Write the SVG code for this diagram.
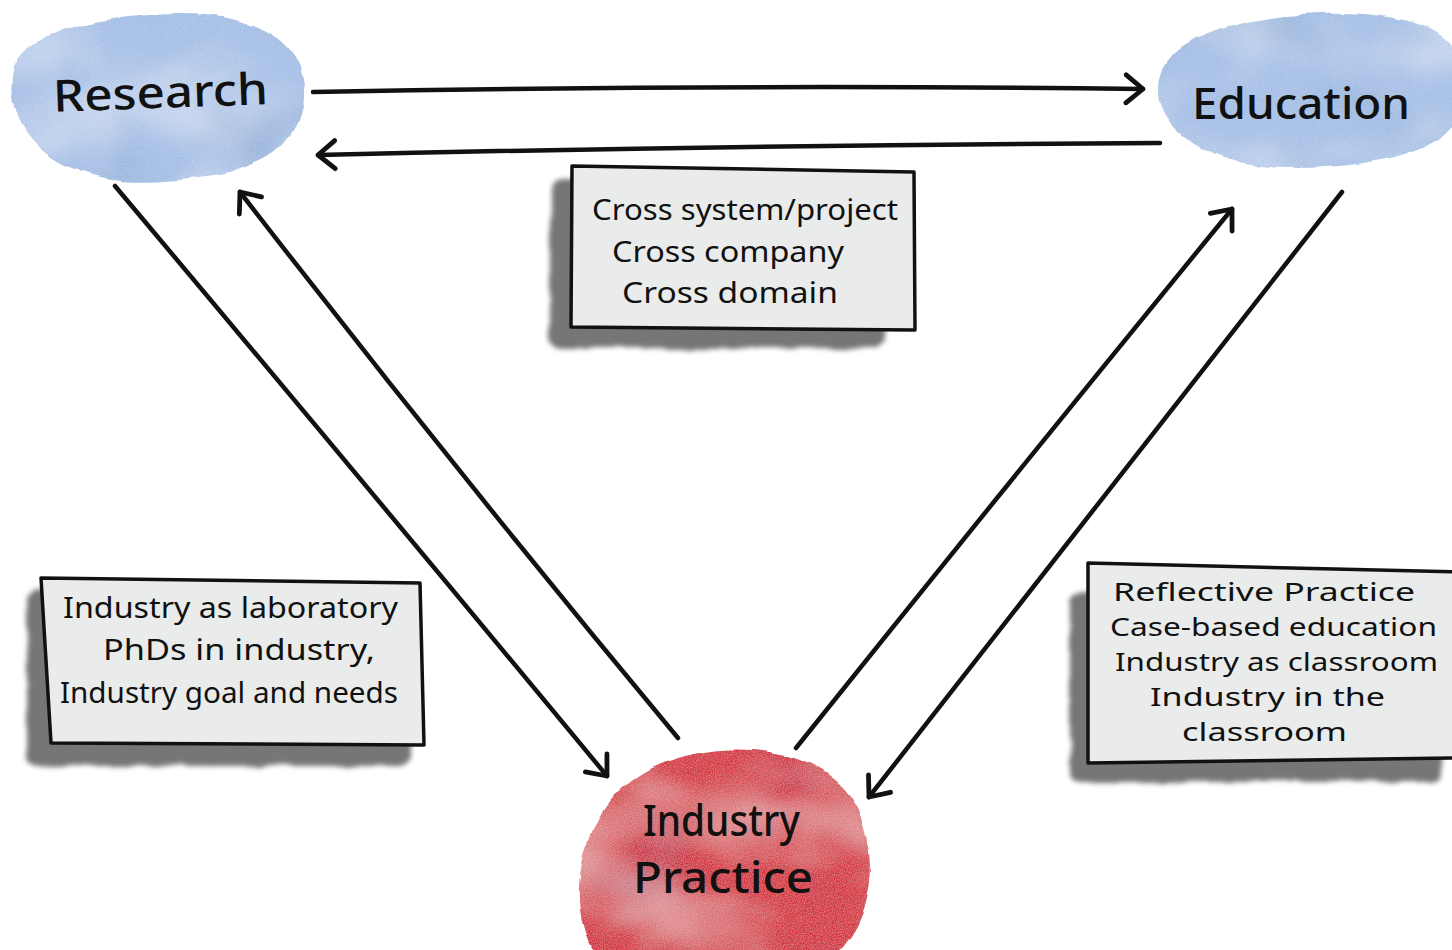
<svg xmlns="http://www.w3.org/2000/svg" width="1452" height="950" viewBox="0 0 1452 950">
  <style>
    .node-label { font-family: "Noto Sans", "DejaVu Sans", sans-serif; font-size: 44px; font-weight: 500; fill: #111; }
    .note-text { font-family: "Noto Sans", "DejaVu Sans", sans-serif; font-size: 29px; fill: #111; }
    .note-text.tight { font-size: 25px; }
    .note-box { fill: #e9ecea; stroke: #111; stroke-width: 3.5; stroke-linejoin: round; }
    .note-shadow { fill: #5e5e5e; opacity: 0.85; filter: url(#smudge); }
    .link { fill: none; stroke: #111; stroke-width: 4.5; stroke-linecap: round; marker-end: url(#chevron); }
    .blob-blue { fill: #a4bfe6; filter: url(#watercolor); }
    .blob-red { fill: #d5343f; filter: url(#watercolor); }
  </style>
  <defs>
    <marker id="chevron" markerUnits="userSpaceOnUse" markerWidth="40" markerHeight="40" viewBox="-24 -20 30 40" refX="0" refY="0" orient="auto">
      <path d="M -17,-14 L 0,0 L -17,14" fill="none" stroke="#111" stroke-width="4.8" stroke-linecap="round" stroke-linejoin="round"/>
    </marker>
    <filter id="watercolor" x="-10%" y="-10%" width="120%" height="120%">
      <feTurbulence type="fractalNoise" baseFrequency="0.025" numOctaves="3" seed="3" result="edgeNoise"/>
      <feDisplacementMap in="SourceGraphic" in2="edgeNoise" scale="8" xChannelSelector="R" yChannelSelector="G" result="shape"/>
      <feTurbulence type="fractalNoise" baseFrequency="0.008 0.014" numOctaves="3" seed="11" result="washNoise"/>
      <feColorMatrix in="washNoise" type="matrix" values="0 0 0 0 1  0 0 0 0 1  0 0 0 0 1  0.8 0 0 0 -0.33" result="paleWash"/>
      <feGaussianBlur in="paleWash" stdDeviation="6" result="paleSoft"/>
      <feComposite in="paleSoft" in2="shape" operator="in" result="paleIn"/>
      <feTurbulence type="fractalNoise" baseFrequency="0.01 0.02" numOctaves="2" seed="21" result="darkNoise"/>
      <feColorMatrix in="darkNoise" type="matrix" values="0 0 0 0 0  0 0 0 0 0.1  0 0 0 0 0.3  0.7 0 0 0 -0.38" result="darkWash"/>
      <feGaussianBlur in="darkWash" stdDeviation="8" result="darkSoft"/>
      <feComposite in="darkSoft" in2="shape" operator="in" result="darkIn"/>
      <feTurbulence type="fractalNoise" baseFrequency="0.9" numOctaves="2" seed="5" result="grain"/>
      <feColorMatrix in="grain" type="matrix" values="0 0 0 0 1  0 0 0 0 1  0 0 0 0 1  0.35 0 0 0 -0.12" result="grainLight"/>
      <feComposite in="grainLight" in2="shape" operator="in" result="grainIn"/>
      <feMerge>
        <feMergeNode in="shape"/>
        <feMergeNode in="darkIn"/>
        <feMergeNode in="paleIn"/>
        <feMergeNode in="grainIn"/>
      </feMerge>
    </filter>
    <filter id="smudge" x="-10%" y="-20%" width="120%" height="140%">
      <feTurbulence type="fractalNoise" baseFrequency="0.03" numOctaves="3" seed="9" result="n"/>
      <feDisplacementMap in="SourceGraphic" in2="n" scale="8" xChannelSelector="R" yChannelSelector="G" result="d"/>
      <feGaussianBlur in="d" stdDeviation="2.5"/>
    </filter>
  </defs>

  <rect width="1452" height="950" fill="#ffffff"/>

  <!-- Node: Research -->
  <g id="node-research">
    <path class="blob-blue" d="M 14,72 C 24,30 100,14 180,13 C 255,12 302,42 304,88 C 306,136 272,168 205,176 C 150,183 110,184 72,168 C 28,150 6,112 14,72 Z"/>
    <text class="node-label" x="53" y="108" textLength="215" lengthAdjust="spacingAndGlyphs" transform="rotate(-2 160 95)">Research</text>
  </g>

  <!-- Node: Education -->
  <g id="node-education">
    <path class="blob-blue" d="M 1158,86 C 1162,40 1230,16 1320,13 C 1400,11 1452,28 1458,60 L 1458,122 C 1432,152 1380,166 1300,168 C 1220,170 1154,134 1158,86 Z"/>
    <text class="node-label" x="1192" y="119" textLength="218" lengthAdjust="spacingAndGlyphs">Education</text>
  </g>

  <!-- Node: Industry Practice -->
  <g id="node-industry">
    <path class="blob-red" d="M 588,846 C 598,800 642,756 722,750 C 800,745 852,778 866,830 C 880,882 862,932 834,956 L 598,956 C 578,930 572,884 588,846 Z"/>
    <text class="node-label" x="643" y="836" textLength="157" lengthAdjust="spacingAndGlyphs">Industry</text>
    <text class="node-label" x="633" y="893" textLength="180" lengthAdjust="spacingAndGlyphs">Practice</text>
  </g>

  <!-- Connectors -->
  <g id="connectors">
    <path class="link" d="M 313,92 Q 730,84 1143,89"/>
    <path class="link" d="M 1160,143 Q 740,145 318,155"/>
    <path class="link" d="M 115,186 Q 362,480 607,776"/>
    <path class="link" d="M 678,738 Q 455,470 240,192"/>
    <path class="link" d="M 796,748 Q 1012,478 1232,209"/>
    <path class="link" d="M 1342,192 Q 1104,498 869,797"/>
  </g>

  <!-- Note: cross-boundary collaboration -->
  <g id="note-cross">
    <rect class="note-shadow" x="550" y="180" width="335" height="168" rx="10"/>
    <polygon class="note-box" points="572,166 914,172 915,330 571,327"/>
    <text class="note-text" x="592" y="220" textLength="306" lengthAdjust="spacingAndGlyphs">Cross system/project</text>
    <text class="note-text" x="612" y="262" textLength="232" lengthAdjust="spacingAndGlyphs">Cross company</text>
    <text class="note-text" x="622" y="303" textLength="216" lengthAdjust="spacingAndGlyphs">Cross domain</text>
  </g>

  <!-- Note: research in industry -->
  <g id="note-research">
    <rect class="note-shadow" x="27" y="590" width="383" height="176" rx="10"/>
    <polygon class="note-box" points="41,578 420,583 424,745 51,743"/>
    <text class="note-text" x="63" y="618" textLength="335" lengthAdjust="spacingAndGlyphs">Industry as laboratory</text>
    <text class="note-text" x="103" y="660" textLength="272" lengthAdjust="spacingAndGlyphs">PhDs in industry,</text>
    <text class="note-text" x="60" y="703" textLength="338" lengthAdjust="spacingAndGlyphs">Industry goal and needs</text>
  </g>

  <!-- Note: education in industry -->
  <g id="note-education">
    <rect class="note-shadow" x="1070" y="592" width="372" height="190" rx="10"/>
    <polygon class="note-box" points="1088,563 1458,572 1458,758 1088,763"/>
    <text class="note-text tight" x="1113" y="601" textLength="302" lengthAdjust="spacingAndGlyphs">Reflective Practice</text>
    <text class="note-text tight" x="1110" y="636" textLength="327" lengthAdjust="spacingAndGlyphs">Case-based education</text>
    <text class="note-text tight" x="1115" y="671" textLength="323" lengthAdjust="spacingAndGlyphs">Industry as classroom</text>
    <text class="note-text tight" x="1150" y="706" textLength="235" lengthAdjust="spacingAndGlyphs">Industry in the</text>
    <text class="note-text tight" x="1182" y="741" textLength="165" lengthAdjust="spacingAndGlyphs">classroom</text>
  </g>
</svg>
